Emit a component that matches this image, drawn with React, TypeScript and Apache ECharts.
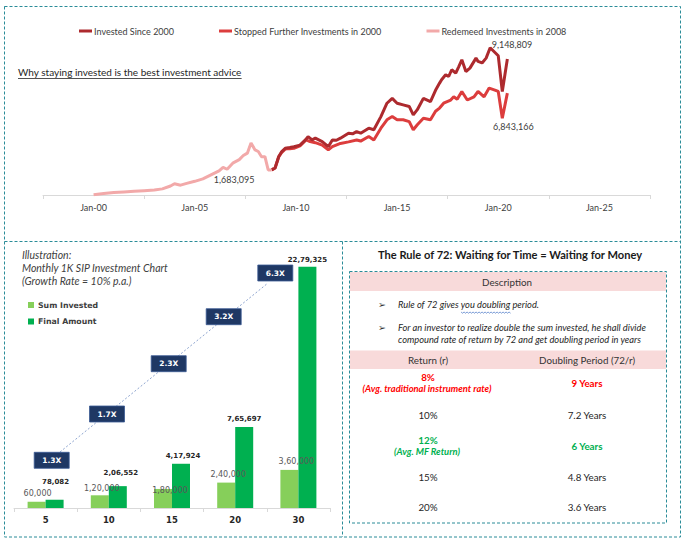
import React, { useEffect, useRef } from 'react';
import * as echarts from 'echarts';

// ---------- Top chart data ----------
const xCategories = ['Jan-00', 'Jan-05', 'Jan-10', 'Jan-15', 'Jan-20', 'Jan-25'];

const redeemedDates = [2000.0, 2000.5, 2001.0, 2001.5, 2002.0, 2002.5, 2003.0, 2003.4, 2003.8, 2004.0, 2004.3, 2004.6, 2005.0, 2005.4, 2005.8, 2006.2, 2006.4, 2006.6, 2006.9, 2007.2, 2007.4, 2007.6, 2007.78, 2007.98, 2008.14, 2008.3, 2008.47, 2008.55, 2008.63, 2008.8];
const redeemedValues = [20000, 90000, 150000, 190000, 230000, 270000, 310000, 380000, 560000, 700000, 610000, 720000, 850000, 1000000, 1250000, 1500000, 1720000, 1600000, 2000000, 2200000, 2450000, 2600000, 3230000, 2800000, 2700000, 2380000, 2380000, 1970000, 1560000, 1560000];

const investedDates = [2008.8, 2008.97, 2009.15, 2009.3, 2009.47, 2009.7, 2009.9, 2010.2, 2010.47, 2010.6, 2010.8, 2010.96, 2011.3, 2011.6, 2011.8, 2012.0, 2012.2, 2012.6, 2012.8, 2013.0, 2013.2, 2013.6, 2013.85, 2014.2, 2014.5, 2014.76, 2015.0, 2015.3, 2015.6, 2015.8, 2016.0, 2016.3, 2016.65, 2016.9, 2017.1, 2017.2, 2017.4, 2017.55, 2017.7, 2017.9, 2018.05, 2018.2, 2018.4, 2018.6, 2018.9, 2019.0, 2019.2, 2019.4, 2019.6, 2019.8, 2020.0, 2020.2, 2020.45];
const investedValues = [1560000, 1680000, 2380000, 2700000, 2900000, 2950000, 3000000, 3100000, 3420000, 3630000, 3420000, 3530000, 3320000, 3000000, 3420000, 3400000, 3530000, 3840000, 3800000, 3940000, 3840000, 4150000, 4050000, 4870000, 5700000, 6000000, 5700000, 5600000, 5500000, 4980000, 5300000, 6000000, 5800000, 6500000, 6950000, 7160000, 7470000, 7360000, 7780000, 7570000, 7980000, 8400000, 7670000, 7880000, 8500000, 8300000, 8200000, 8500000, 9148809, 8900000, 8650000, 6430000, 8450000];

const stoppedDates = [2008.8, 2008.97, 2009.15, 2009.3, 2009.47, 2009.7, 2009.9, 2010.2, 2010.5, 2010.7, 2010.96, 2011.3, 2011.6, 2011.8, 2012.2, 2012.6, 2013.0, 2013.2, 2013.6, 2013.85, 2014.2, 2014.5, 2014.76, 2015.0, 2015.3, 2015.6, 2015.8, 2016.0, 2016.3, 2016.65, 2016.9, 2017.1, 2017.3, 2017.65, 2017.8, 2017.97, 2018.2, 2018.47, 2018.8, 2019.0, 2019.3, 2019.55, 2019.8, 2020.0, 2020.2, 2020.45];
const stoppedValues = [1560000, 1680000, 2380000, 2650000, 2850000, 2880000, 2900000, 3050000, 3420000, 3320000, 3250000, 3100000, 2800000, 3000000, 3200000, 3300000, 3420000, 3350000, 3630000, 3420000, 4150000, 4670000, 4870000, 4670000, 4670000, 4560000, 4050000, 4360000, 4770000, 4670000, 5200000, 5400000, 5700000, 5900000, 6100000, 5950000, 6430000, 5900000, 6100000, 6430000, 6100000, 6640000, 6530000, 6430000, 4770000, 6330000];

const annotatedCovid = 6843166;
const annotatedRedeemed = 1683095;
const redeemedLabelDate = 2006.6;

// ---------- Bottom-left chart data ----------
const sipYears = ['5', '10', '15', '20', '30'];
const sumInvested = [60000, 120000, 180000, 240000, 360000];
const finalAmount = [78082, 206552, 417924, 765697, 2279325];

// ---------- Rule of 72 table data ----------
const rates = [8, 10, 12, 15, 20];
const rateNotes = ['(Avg. traditional instrument rate)', '', '(Avg. MF Return)', '', ''];
const rateColors = ['#ff0000', '#262626', '#00b050', '#262626', '#262626'];
const rateBold = [true, false, true, false, false];

// ---------- styles / layout ----------
const DARK = '#ad2a2e';
const RED = '#dc3d3d';
const PINK = '#f2a9a9';
const LIGHTG = '#86cf5a';
const GREEN = '#00b050';
const NAVY = '#1f3864';
const TEAL = '#2a8c98';
const PINKBG = '#f8dada';
const LATO = 'Lato, "Noto Sans", sans-serif';
const DJV = '"DejaVu Sans", sans-serif';

const lightLabelOffsets = [[1, -1], [2, 0], [7, 9], [2, -1], [7, -1]];
const finalLabelOffsets = [[1, -10], [3, -5.5], [2, 0], [0, 0], [0, 1]];
const boxCenters = [[51.7, 460.3], [107, 414], [168.7, 363.7], [223.7, 316.7], [275.3, 273]];
const rowCenters = [382.5, 414.7, 446, 477, 507];

function inr(n: number): string {
  const s = String(Math.round(n));
  if (s.length <= 3) return s;
  const last3 = s.slice(-3);
  const rest = s.slice(0, -3).replace(/\B(?=(\d{2})+(?!\d))/g, ',');
  return rest + ',' + last3;
}
function western(n: number): string {
  return String(Math.round(n)).replace(/\B(?=(\d{3})+(?!\d))/g, ',');
}
function measure(text: string, font: string): number {
  const c = document.createElement('canvas').getContext('2d');
  if (!c) return text.length * 4.5;
  c.font = font;
  return c.measureText(text).width;
}
function zip(a: number[], b: number[]) {
  return a.map((x, i) => [x, b[i]]);
}

export default function App() {
  const ref = useRef<HTMLDivElement>(null);
  useEffect(() => {
    if (!ref.current) return;
    const chart = echarts.init(ref.current, undefined, { renderer: 'svg' });

    const peakIdx = investedValues.indexOf(Math.max(...investedValues));
    const troughIdx = stoppedValues.length - 2;
    const redIdx = redeemedDates.indexOf(redeemedLabelDate);

    const graphics: any[] = [];
    const dash = { fill: 'none', stroke: TEAL, lineWidth: 1, lineDash: [3, 2] };
    // frames
    graphics.push({ type: 'rect', shape: { x: 4.5, y: 6.5, width: 676, height: 530.5 }, style: dash, silent: true });
    graphics.push({ type: 'line', shape: { x1: 4.5, y1: 241.5, x2: 680.5, y2: 241.5 }, style: dash, silent: true });
    graphics.push({ type: 'line', shape: { x1: 342.5, y1: 241.5, x2: 342.5, y2: 537 }, style: dash, silent: true });

    // top subtitle
    const subT = 'Why staying invested is the best investment advice';
    const subW = measure(subT, '10px Lato');
    graphics.push({ type: 'text', x: 18, y: 72, style: { text: subT, fontSize: 10, fontFamily: LATO, fill: '#262626', textVerticalAlign: 'middle' } });
    graphics.push({ type: 'line', shape: { x1: 18, y1: 78.5, x2: 18 + subW, y2: 78.5 }, style: { stroke: '#262626', lineWidth: 0.8 } });

    // bottom-left titles
    ['Illustration:', 'Monthly 1K SIP Investment Chart', '(Growth Rate = 10% p.a.)'].forEach((t, i) => {
      graphics.push({ type: 'text', x: 22, y: 254.5 + i * 13.3, style: { text: t, fontSize: 10.5, fontStyle: 'italic', fontFamily: LATO, fill: '#404040', textVerticalAlign: 'middle' } });
    });

    // diagonal dotted line + multiplier boxes
    graphics.push({ type: 'line', shape: { x1: 60, y1: 452, x2: 268, y2: 283 }, style: { stroke: '#8ea5d0', lineWidth: 1, lineDash: [2, 2] }, z: 5 });
    boxCenters.forEach((c, i) => {
      const ratio = (finalAmount[i] / sumInvested[i]).toFixed(1) + 'X';
      graphics.push({ type: 'rect', shape: { x: c[0] - 17.5, y: c[1] - 8, width: 35, height: 16 }, style: { fill: NAVY, stroke: '#3b5a94', lineWidth: 0.8 }, z: 6 });
      graphics.push({ type: 'text', x: c[0], y: c[1], style: { text: ratio, fontSize: 7.5, fontWeight: 'bold', fontFamily: DJV, fill: '#ffffff', textAlign: 'center', textVerticalAlign: 'middle' }, z: 7 });
    });

    // right panel
    graphics.push({ type: 'text', x: 510, y: 254.5, style: { text: 'The Rule of 72: Waiting for Time = Waiting for Money', fontSize: 11.1, fontWeight: 'bold', fontFamily: LATO, fill: '#1a1a1a', textAlign: 'center', textVerticalAlign: 'middle' } });
    graphics.push({ type: 'rect', shape: { x: 349.5, y: 271.5, width: 317, height: 251.5 }, style: dash, silent: true });
    graphics.push({ type: 'rect', shape: { x: 350, y: 272, width: 316, height: 19 }, style: { fill: PINKBG } });
    graphics.push({ type: 'text', x: 507, y: 281.5, style: { text: 'Description', fontSize: 9.8, fontFamily: LATO, fill: '#333333', textAlign: 'center', textVerticalAlign: 'middle' } });
    const BF = 9.3;
    const bulletFont = `italic ${BF}px Lato`;
    const b1a = 'Rule of 72 gives ';
    const b1b = 'you doubling';
    [304.7, 327.3].forEach((y) => {
      graphics.push({ type: 'text', x: 378, y, style: { text: '➢', fontSize: 9.5, fontFamily: DJV, fill: '#333333', textVerticalAlign: 'middle' } });
    });
    graphics.push({ type: 'text', x: 398, y: 304.7, style: { text: 'Rule of 72 gives you doubling period.', fontSize: BF, fontStyle: 'italic', fontFamily: LATO, fill: '#262626', textVerticalAlign: 'middle' } });
    const wx0 = 398 + measure(b1a, bulletFont);
    const wx1 = wx0 + measure(b1b, bulletFont);
    const wave: number[][] = [];
    for (let x = wx0, k = 0; x <= wx1; x += 1.5, k++) wave.push([x, 312 + (k % 2 === 0 ? 0 : 1.2)]);
    graphics.push({ type: 'polyline', shape: { points: wave }, style: { stroke: '#4472c4', lineWidth: 0.7, fill: 'none' } });
    graphics.push({ type: 'text', x: 398, y: 327.3, style: { text: 'For an investor to realize double the sum invested, he shall divide', fontSize: BF, fontStyle: 'italic', fontFamily: LATO, fill: '#262626', textVerticalAlign: 'middle' } });
    graphics.push({ type: 'text', x: 398, y: 339.7, style: { text: 'compound rate of return by 72 and get doubling period in years', fontSize: BF, fontStyle: 'italic', fontFamily: LATO, fill: '#262626', textVerticalAlign: 'middle' } });
    graphics.push({ type: 'rect', shape: { x: 350, y: 350.5, width: 316, height: 18.5 }, style: { fill: PINKBG } });
    graphics.push({ type: 'text', x: 428, y: 359.5, style: { text: 'Return (r)', fontSize: 9.8, fontFamily: LATO, fill: '#333333', textAlign: 'center', textVerticalAlign: 'middle' } });
    graphics.push({ type: 'text', x: 587, y: 359.5, style: { text: 'Doubling Period (72/r)', fontSize: 9.8, fontFamily: LATO, fill: '#333333', textAlign: 'center', textVerticalAlign: 'middle' } });
    rates.forEach((r, i) => {
      const cy = rowCenters[i];
      const col = rateColors[i];
      const fw = rateBold[i] ? 'bold' : 'normal';
      const hasNote = !!rateNotes[i];
      graphics.push({ type: 'text', x: 428, y: hasNote ? cy - 6 : cy, style: { text: r + '%', fontSize: 9.8, fontWeight: fw, fontFamily: LATO, fill: col, textAlign: 'center', textVerticalAlign: 'middle' } });
      if (hasNote) {
        graphics.push({ type: 'text', x: 427, y: cy + 5.8, style: { text: rateNotes[i], fontSize: 9.4, fontWeight: 'bold', fontStyle: 'italic', fontFamily: LATO, fill: col, textAlign: 'center', textVerticalAlign: 'middle' } });
      }
      const yrs = +(72 / r).toFixed(1);
      graphics.push({ type: 'text', x: 587, y: cy, style: { text: yrs + ' Years', fontSize: 9.8, fontWeight: fw, fontFamily: LATO, fill: col, textAlign: 'center', textVerticalAlign: 'middle' } });
    });

    const topLabel = { fontSize: 9, fontFamily: LATO, color: '#404040' };

    const option: any = {
      animation: false,
      backgroundColor: '#ffffff',
      grid: [
        { left: 43, right: 38, top: 34, bottom: 350 },
        { left: 14, right: 358, top: 243.4, bottom: 37 },
      ],
      legend: [
        {
          data: ['Invested Since 2000', 'Stopped Further Investments in 2000', 'Redemeed Investments in 2008'],
          left: 74, top: 21.5, icon: 'rect', itemWidth: 13, itemHeight: 3, itemGap: 45,
          textStyle: { fontSize: 9, fontFamily: LATO, color: '#404040', padding: [0, 0, 0, -3] },
          selectedMode: false,
        },
        {
          data: ['Sum Invested', 'Final Amount'],
          orient: 'vertical', left: 23, top: 296, icon: 'rect', itemWidth: 6, itemHeight: 6, itemGap: 8.5,
          textStyle: { fontSize: 7.8, fontWeight: 'bold', fontFamily: DJV, color: '#404040', padding: [0, 0, 0, -1] },
          selectedMode: false,
        },
      ],
      xAxis: [
        {
          type: 'category', gridIndex: 0, data: xCategories, boundaryGap: true,
          axisLine: { lineStyle: { color: '#d9d9d9' } },
          axisTick: { show: true, length: 4, lineStyle: { color: '#d9d9d9' } },
          axisLabel: { interval: 0, margin: 8, ...topLabel },
          splitLine: { show: false },
        },
        { type: 'value', gridIndex: 0, min: 1997.5, max: 2027.5, show: false, splitLine: { show: false } },
        {
          type: 'category', gridIndex: 1, data: sipYears, boundaryGap: true,
          axisLine: { lineStyle: { color: '#d9d9d9' } },
          axisTick: { show: true, length: 4, lineStyle: { color: '#d9d9d9' } },
          axisLabel: { interval: 0, margin: 7, fontSize: 8.5, fontWeight: 'bold', fontFamily: DJV, color: '#262626' },
        },
      ],
      yAxis: [
        { type: 'value', gridIndex: 0, min: 0, max: 10000000, show: false, splitLine: { show: false } },
        { type: 'value', gridIndex: 1, min: 0, max: 2500000, show: false, splitLine: { show: false } },
      ],
      series: [
        {
          name: 'Stopped Further Investments in 2000', type: 'line', xAxisIndex: 1, yAxisIndex: 0,
          data: zip(stoppedDates, stoppedValues), showSymbol: false, symbol: 'none',
          lineStyle: { width: 3, color: RED }, itemStyle: { color: RED }, z: 2,
          markPoint: {
            symbol: 'circle', symbolSize: 1, itemStyle: { color: 'rgba(0,0,0,0)' },
            data: [{ coord: [stoppedDates[troughIdx], stoppedValues[troughIdx]], value: annotatedCovid }],
            label: { show: true, position: 'bottom', distance: 3, offset: [11, 0], formatter: (p: any) => western(p.value), ...topLabel },
          },
        },
        {
          name: 'Invested Since 2000', type: 'line', xAxisIndex: 1, yAxisIndex: 0,
          data: zip(investedDates, investedValues), showSymbol: false, symbol: 'none',
          lineStyle: { width: 3, color: DARK }, itemStyle: { color: DARK }, z: 3,
          markPoint: {
            symbol: 'circle', symbolSize: 1, itemStyle: { color: 'rgba(0,0,0,0)' },
            data: [{ coord: [investedDates[peakIdx], investedValues[peakIdx]], value: investedValues[peakIdx] }],
            label: { show: true, position: 'right', distance: 1, offset: [0, -3], formatter: (p: any) => western(p.value), ...topLabel },
          },
        },
        {
          name: 'Redemeed Investments in 2008', type: 'line', xAxisIndex: 1, yAxisIndex: 0,
          data: zip(redeemedDates, redeemedValues), showSymbol: false, symbol: 'none',
          lineStyle: { width: 3, color: PINK }, itemStyle: { color: PINK }, z: 4,
          markPoint: {
            symbol: 'circle', symbolSize: 1, itemStyle: { color: 'rgba(0,0,0,0)' },
            data: [{ coord: [redeemedDates[redIdx], redeemedValues[redIdx]], value: annotatedRedeemed }],
            label: { show: true, position: 'bottom', distance: 5, offset: [7, 0], formatter: (p: any) => western(p.value), ...topLabel },
          },
        },
        {
          name: 'Sum Invested', type: 'bar', xAxisIndex: 2, yAxisIndex: 1,
          barWidth: 18, barGap: '0%',
          itemStyle: { color: LIGHTG },
          data: sumInvested.map((v, i) => ({ value: v, label: { offset: lightLabelOffsets[i] } })),
          label: { show: true, position: 'top', distance: 3, formatter: (p: any) => inr(p.value), fontSize: 8, fontFamily: DJV, color: '#595959' },
        },
        {
          name: 'Final Amount', type: 'bar', xAxisIndex: 2, yAxisIndex: 1,
          barWidth: 18, barGap: '0%',
          itemStyle: { color: GREEN },
          data: finalAmount.map((v, i) => ({ value: v, label: { offset: finalLabelOffsets[i] } })),
          label: { show: true, position: 'top', distance: 4, formatter: (p: any) => inr(p.value), fontSize: 7, fontWeight: 'bold', fontFamily: DJV, color: '#262626' },
        },
      ],
      graphic: graphics,
    };
    chart.setOption(option);
    return () => chart.dispose();
  }, []);
  return <div ref={ref} style={{ position: 'absolute', left: 0, top: 0, width: 688, height: 545, background: '#fff' }} />;
}
